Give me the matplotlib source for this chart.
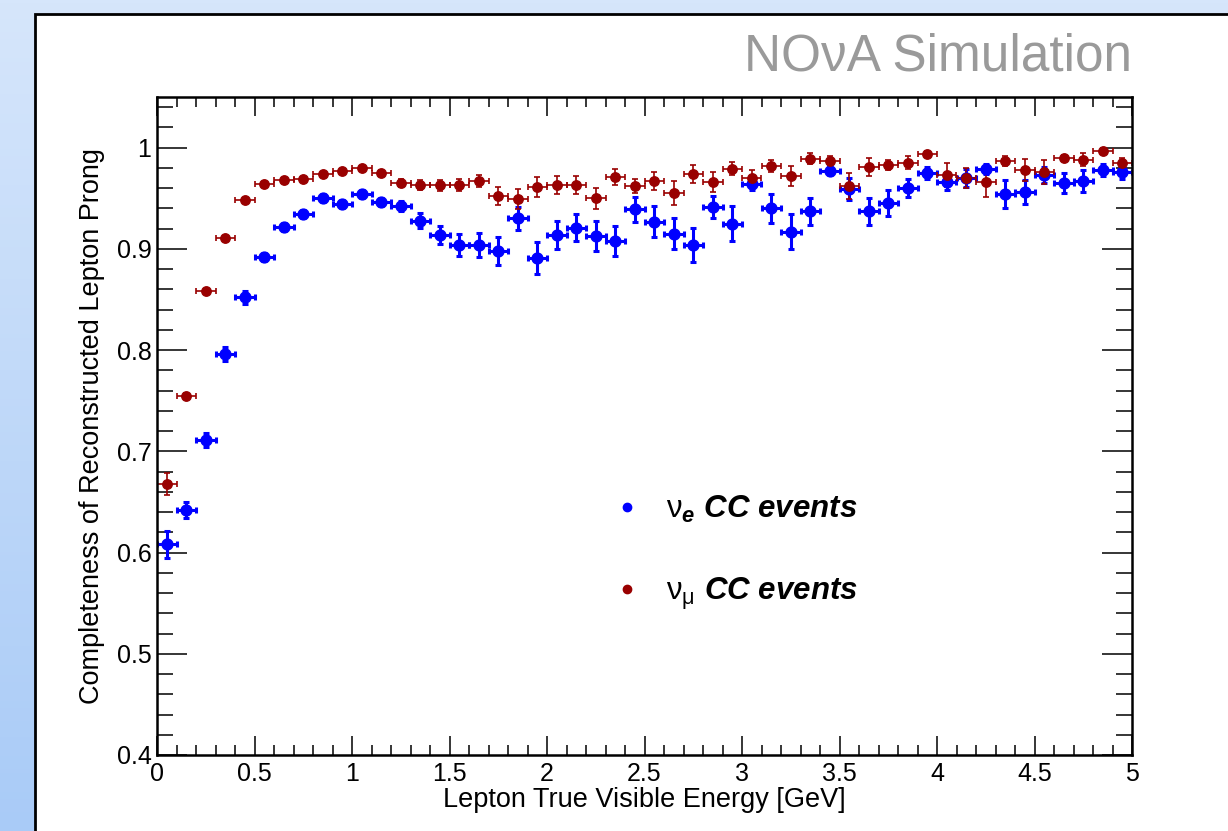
import numpy as np
import matplotlib.pyplot as plt
from matplotlib.colors import LinearSegmentedColormap
from matplotlib.patches import Rectangle
from matplotlib.lines import Line2D
from matplotlib.ticker import MultipleLocator, FuncFormatter

plt.rcParams['font.family'] = ['Liberation Sans', 'DejaVu Sans']
plt.rcParams['mathtext.fontset'] = 'custom'
plt.rcParams['mathtext.rm'] = 'Liberation Sans'
plt.rcParams['mathtext.it'] = 'Liberation Sans:italic'
plt.rcParams['mathtext.bf'] = 'Liberation Sans:bold:italic'

# bin centres of lepton true visible energy [GeV], bins 0.1 GeV wide
energy = [0.05, 0.15, 0.25, 0.35, 0.45, 0.55, 0.65, 0.75, 0.85, 0.95,
          1.05, 1.15, 1.25, 1.35, 1.45, 1.55, 1.65, 1.75, 1.85, 1.95,
          2.05, 2.15, 2.25, 2.35, 2.45, 2.55, 2.65, 2.75, 2.85, 2.95,
          3.05, 3.15, 3.25, 3.35, 3.45, 3.55, 3.65, 3.75, 3.85, 3.95,
          4.05, 4.15, 4.25, 4.35, 4.45, 4.55, 4.65, 4.75, 4.85, 4.95]
bin_half = 0.05

# nu_e CC completeness
nue = [0.608, 0.642, 0.711, 0.796, 0.852, 0.892, 0.922, 0.934, 0.950, 0.944,
       0.954, 0.946, 0.942, 0.928, 0.914, 0.904, 0.904, 0.898, 0.930, 0.891,
       0.914, 0.921, 0.913, 0.908, 0.939, 0.927, 0.915, 0.904, 0.941, 0.925,
       0.964, 0.940, 0.917, 0.937, 0.977, 0.959, 0.937, 0.945, 0.960, 0.975,
       0.966, 0.970, 0.979, 0.954, 0.956, 0.973, 0.965, 0.967, 0.978, 0.976]
nue_err = [0.013, 0.008, 0.007, 0.007, 0.006, 0.004, 0.004, 0.004, 0.004, 0.004,
           0.004, 0.004, 0.005, 0.007, 0.009, 0.011, 0.012, 0.014, 0.011, 0.016,
           0.014, 0.013, 0.015, 0.015, 0.012, 0.015, 0.015, 0.017, 0.011, 0.017,
           0.006, 0.014, 0.017, 0.013, 0.004, 0.011, 0.013, 0.013, 0.009, 0.006,
           0.008, 0.009, 0.005, 0.014, 0.012, 0.008, 0.010, 0.011, 0.006, 0.007]

# nu_mu CC completeness
numu = [0.668, 0.755, 0.858, 0.911, 0.948, 0.964, 0.968, 0.969, 0.974, 0.977,
        0.980, 0.975, 0.965, 0.963, 0.963, 0.963, 0.967, 0.952, 0.949, 0.961,
        0.963, 0.963, 0.950, 0.971, 0.962, 0.967, 0.955, 0.974, 0.966, 0.979,
        0.970, 0.982, 0.972, 0.989, 0.987, 0.962, 0.981, 0.983, 0.985, 0.994,
        0.973, 0.970, 0.966, 0.987, 0.978, 0.976, 0.990, 0.988, 0.997, 0.985]
numu_err = [0.011, 0.003, 0.002, 0.002, 0.002, 0.002, 0.002, 0.002, 0.002, 0.002,
            0.002, 0.003, 0.004, 0.005, 0.0055, 0.006, 0.006, 0.009, 0.010, 0.0095,
            0.009, 0.009, 0.0105, 0.008, 0.007, 0.009, 0.012, 0.009, 0.010, 0.0065,
            0.008, 0.006, 0.0095, 0.0055, 0.005, 0.013, 0.009, 0.005, 0.0065, 0.003,
            0.012, 0.010, 0.0145, 0.005, 0.011, 0.0115, 0.003, 0.0065, 0.003, 0.005]

blue = '#0000ff'
red = '#990000'

fig = plt.figure(figsize=(12.28, 8.31), dpi=100)

# light blue gradient behind the white canvas
bg = fig.add_axes([0, 0, 1, 1], zorder=0)
bg.axis('off')
cmap = LinearSegmentedColormap.from_list('bg', ['#a9cbf7', '#d6e6fb'])
bg.imshow(np.linspace(0, 1, 256)[:, None], extent=[0, 1, 0, 1], aspect='auto',
          cmap=cmap, origin='lower')
bg.add_patch(Rectangle((35 / 1228, -0.1), 1.2, 1.1 - 14 / 831,
                       facecolor='white', edgecolor='black', lw=2))
bg.set_xlim(0, 1)
bg.set_ylim(0, 1)

ax = fig.add_axes([157 / 1228, 1 - 755 / 831, 975 / 1228, 658 / 831], zorder=1)

ax.errorbar(energy, nue, xerr=bin_half, yerr=nue_err, fmt='o', color=blue,
            ms=7.8, elinewidth=2.2, capsize=2.5, capthick=2.2)
ax.errorbar(energy, numu, xerr=bin_half, yerr=numu_err, fmt='o', color=red,
            ms=6.8, elinewidth=1.2, capsize=2.5, capthick=1.2)

ax.set_xlim(0, 5)
ax.set_ylim(0.4, 1.05)

ax.xaxis.set_major_locator(MultipleLocator(0.5))
ax.xaxis.set_minor_locator(MultipleLocator(0.1))
ax.yaxis.set_major_locator(MultipleLocator(0.1))
ax.yaxis.set_minor_locator(MultipleLocator(0.02))
fmt = FuncFormatter(lambda v, p: '%g' % round(v, 2))
ax.xaxis.set_major_formatter(fmt)
ax.yaxis.set_major_formatter(fmt)

ax.tick_params(which='both', direction='in', top=True, right=True,
               labelsize=18, width=1.1)
ax.tick_params(axis='x', which='major', length=14, pad=5)
ax.tick_params(axis='x', which='minor', length=7)
ax.tick_params(axis='y', which='major', length=21.5, pad=4)
ax.tick_params(axis='y', which='minor', length=11.5)
for s in ax.spines.values():
    s.set_linewidth(1.8)

ax.set_xlabel('Lepton True Visible Energy [GeV]', fontsize=19.5, labelpad=1)
ax.set_ylabel('Completeness of Reconstructed Lepton Prong', fontsize=19.5, labelpad=8)

handles = [Line2D([], [], marker='o', ls='none', color=blue, ms=6),
           Line2D([], [], marker='o', ls='none', color=red, ms=6)]
labels = [r'$\mathrm{\nu}_{\mathbf{e}}$ $\mathbf{CC\ events}$',
          r'$\mathrm{\nu}_{\mathrm{\mu}}$ $\mathbf{CC\ events}$']
ax.legend(handles, labels, loc='center left', bbox_to_anchor=(0.4495, 0.307),
          frameon=False, fontsize=22.5, handlelength=1.0, handletextpad=0.75,
          labelspacing=1.6, borderpad=0)

fig.text(1132 / 1228, 1 - 57 / 831, 'NOνA Simulation', ha='right', va='center',
         fontsize=37, color='#9a9a9a')

fig.savefig('out.png', dpi=100)
